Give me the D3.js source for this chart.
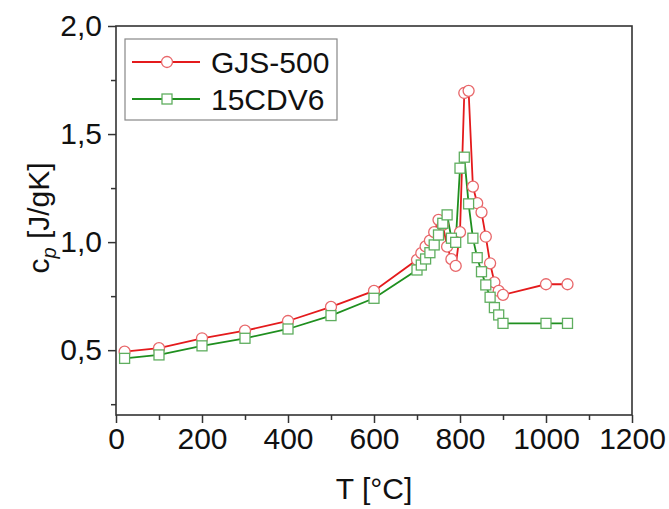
<!DOCTYPE html>
<html>
<head>
<meta charset="utf-8">
<script src="https://cdn.jsdelivr.net/npm/d3@7"></script>
<style>
  body { margin: 0; background: #fff; }
  text { font-family: "Liberation Sans", Arial, sans-serif; fill: #111; }
</style>
</head>
<body>
<svg id="chart" width="669" height="509"></svg>
<script>
/* data */
var seriesNames = ["GJS-500", "15CDV6"];

var gjsT  = [20, 100, 200, 300, 400, 500, 600, 700, 710, 720, 730, 740, 750, 760, 770, 780, 790, 800, 810, 820, 830, 840, 850, 860, 870, 880, 890, 900, 1000, 1050];
var gjsCp = [0.493, 0.509, 0.555, 0.59, 0.635, 0.70, 0.774, 0.918, 0.949, 0.98, 1.007, 1.046, 1.103, 1.08, 0.979, 0.921, 0.89, 1.046, 1.69, 1.70, 1.257, 1.18, 1.138, 1.025, 0.902, 0.814, 0.774, 0.756, 0.805, 0.805];

var cdvT  = [20, 100, 200, 300, 400, 500, 600, 700, 710, 720, 730, 740, 750, 760, 770, 780, 790, 800, 810, 820, 830, 840, 850, 860, 870, 880, 890, 900, 1000, 1050];
var cdvCp = [0.462, 0.478, 0.52, 0.555, 0.598, 0.66, 0.74, 0.871, 0.894, 0.922, 0.951, 0.987, 1.033, 1.087, 1.126, 1.018, 0.999, 1.342, 1.393, 1.177, 1.018, 0.928, 0.863, 0.802, 0.745, 0.697, 0.663, 0.624, 0.624, 0.624];

var xTicks = [0, 200, 400, 600, 800, 1000, 1200];
var xMinor = [100, 300, 500, 700, 900, 1100];
var yTicks = [0.5, 1.0, 1.5, 2.0];
var yMinor = [0.25, 0.75, 1.25, 1.75];

var svg = d3.select("#chart");
var mLeft = 116, mRight = 632, mTop = 26, mBottom = 415;

var x = d3.scaleLinear().domain([0, 1200]).range([mLeft, mRight]);
var y = d3.scaleLinear().domain([0.2, 2.0]).range([mBottom, mTop]);

var comma = function (v) { return d3.format(".1f")(v).replace(".", ","); };

/* axes */
svg.append("g").attr("transform", "translate(0," + mBottom + ")")
  .call(d3.axisBottom(x).tickValues(xTicks).tickSize(8).tickPadding(5).tickFormat(d3.format("d")));
svg.append("g").attr("transform", "translate(0," + mBottom + ")")
  .call(d3.axisBottom(x).tickValues(xMinor).tickSize(5).tickFormat(""));
svg.append("g").attr("transform", "translate(" + mLeft + ",0)")
  .call(d3.axisLeft(y).tickValues(yTicks).tickSize(8).tickPadding(6).tickFormat(comma));
svg.append("g").attr("transform", "translate(" + mLeft + ",0)")
  .call(d3.axisLeft(y).tickValues(yMinor).tickSize(5).tickFormat(""));

svg.selectAll(".domain").remove();
svg.selectAll(".tick line").attr("stroke", "#333").attr("stroke-width", 1.5);
svg.selectAll(".tick text").style("font-size", "30px").attr("fill", "#111");

/* frame */
svg.append("rect")
  .attr("x", mLeft).attr("y", mTop)
  .attr("width", mRight - mLeft).attr("height", mBottom - mTop)
  .attr("fill", "none").attr("stroke", "#333").attr("stroke-width", 1.6);

/* titles */
svg.append("text")
  .attr("x", (mLeft + mRight) / 2).attr("y", 499)
  .attr("text-anchor", "middle").style("font-size", "30px")
  .text("T [°C]");

var yl = svg.append("text")
  .attr("transform", "translate(49,218) rotate(-90)")
  .attr("text-anchor", "middle").style("font-size", "30px");
yl.append("tspan").text("c");
yl.append("tspan").attr("dy", 7).style("font-size", "20px").style("font-style", "italic").text("p");
yl.append("tspan").attr("dy", -7).text(" [J/gK]");

/* series */
var line = d3.line().x(function (d) { return x(d[0]); }).y(function (d) { return y(d[1]); });

var gjs = d3.zip(gjsT, gjsCp);
var cdv = d3.zip(cdvT, cdvCp);

var redLine = "#e41a1c", redMark = "#e8676a";
var greenLine = "#1f8f1f", greenMark = "#5fae5f";

svg.append("path").datum(gjs).attr("d", line)
  .attr("fill", "none").attr("stroke", redLine).attr("stroke-width", 1.8);
svg.append("path").datum(cdv).attr("d", line)
  .attr("fill", "none").attr("stroke", greenLine).attr("stroke-width", 1.8);

svg.append("g").selectAll("circle").data(gjs).enter().append("circle")
  .attr("cx", function (d) { return x(d[0]); })
  .attr("cy", function (d) { return y(d[1]); })
  .attr("r", 5.5)
  .attr("fill", "#fff").attr("stroke", redMark).attr("stroke-width", 1.3);

svg.append("g").selectAll("rect").data(cdv).enter().append("rect")
  .attr("x", function (d) { return x(d[0]) - 5; })
  .attr("y", function (d) { return y(d[1]) - 5; })
  .attr("width", 10).attr("height", 10)
  .attr("fill", "#fff").attr("stroke", greenMark).attr("stroke-width", 1.3);

/* legend */
var lg = svg.append("g");
lg.append("rect").attr("x", 125).attr("y", 39).attr("width", 212).attr("height", 81)
  .attr("fill", "#fff").attr("stroke", "#888").attr("stroke-width", 1.2);

var rows = [
  { name: seriesNames[0], line: redLine, mark: redMark, shape: "circle", y: 62 },
  { name: seriesNames[1], line: greenLine, mark: greenMark, shape: "square", y: 99 }
];
rows.forEach(function (r) {
  lg.append("line").attr("x1", 132).attr("x2", 200).attr("y1", r.y).attr("y2", r.y)
    .attr("stroke", r.line).attr("stroke-width", 1.8);
  if (r.shape === "circle") {
    lg.append("circle").attr("cx", 167).attr("cy", r.y).attr("r", 5.5)
      .attr("fill", "#fff").attr("stroke", r.mark).attr("stroke-width", 1.3);
  } else {
    lg.append("rect").attr("x", 162).attr("y", r.y - 5).attr("width", 10).attr("height", 10)
      .attr("fill", "#fff").attr("stroke", r.mark).attr("stroke-width", 1.3);
  }
  lg.append("text").attr("x", 211).attr("y", r.y + 11).style("font-size", "30px").text(r.name);
});
</script>
</body>
</html>
